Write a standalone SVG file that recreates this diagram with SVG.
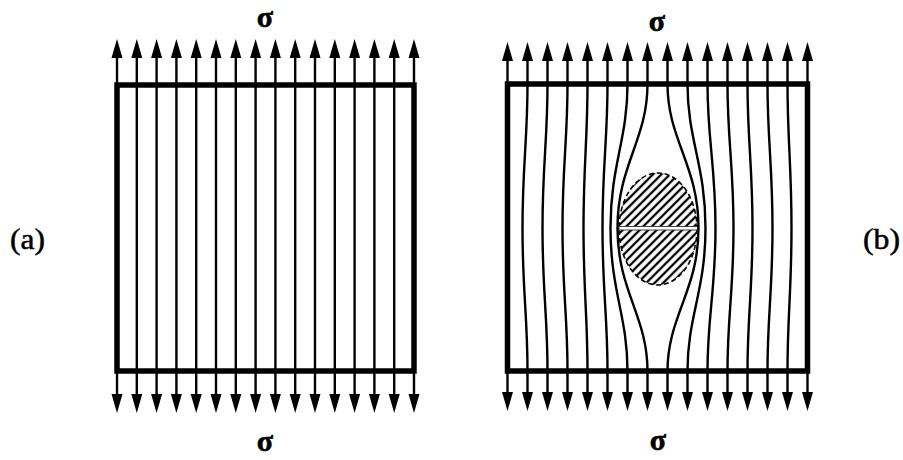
<svg xmlns="http://www.w3.org/2000/svg" width="903" height="460" viewBox="0 0 903 460">
<style>
.box{fill:none;stroke:#000;stroke-width:5.5}
.fl{fill:none;stroke:#000;stroke-width:2.4;marker-start:url(#ah);marker-end:url(#ah)}
.lbl{font-family:Liberation Serif, Times New Roman, serif;font-size:29px;fill:#000;stroke:#000;stroke-width:0.5}
.sig{font-family:Liberation Serif, Times New Roman, serif;font-size:30px;font-weight:bold;fill:#000;stroke:#000;stroke-width:0.6;text-anchor:middle}
</style>
<defs>
<marker id="ah" markerUnits="userSpaceOnUse" markerWidth="22" markerHeight="12" refX="8" refY="5.5" orient="auto-start-reverse" viewBox="0 0 22 11">
<path d="M0,0 L19,5.5 L0,11 Z" fill="#000"/>
</marker>
<pattern id="hatch" width="6" height="6" patternUnits="userSpaceOnUse" patternTransform="rotate(-45)">
<rect width="6" height="6" fill="#fff"/>
<line x1="0" y1="3" x2="6" y2="3" stroke="#000" stroke-width="2.3"/>
</pattern>
</defs>
<rect width="903" height="460" fill="#fff"/>

<g id="panel-a">
<g id="connectors-a">
<path class="fl" d="M117,50 V402"/>
<path class="fl" d="M136.8,50 V402"/>
<path class="fl" d="M156.6,50 V402"/>
<path class="fl" d="M176.4,50 V402"/>
<path class="fl" d="M196.2,50 V402"/>
<path class="fl" d="M216,50 V402"/>
<path class="fl" d="M235.8,50 V402"/>
<path class="fl" d="M255.6,50 V402"/>
<path class="fl" d="M275.4,50 V402"/>
<path class="fl" d="M295.2,50 V402"/>
<path class="fl" d="M315,50 V402"/>
<path class="fl" d="M334.8,50 V402"/>
<path class="fl" d="M354.6,50 V402"/>
<path class="fl" d="M374.4,50 V402"/>
<path class="fl" d="M394.2,50 V402"/>
<path class="fl" d="M414,50 V402"/>
</g>
<rect id="plate-a" class="box" x="117" y="85" width="297" height="286"/>
<text class="sig" x="265" y="27">σ</text>
<text class="sig" x="265" y="451">σ</text>
<text id="label-a" class="lbl" x="10" y="249" textLength="35" lengthAdjust="spacingAndGlyphs">(a)</text>
</g>

<g id="panel-b">
<g id="inclusion">
<ellipse cx="658" cy="229" rx="39" ry="56" fill="url(#hatch)" stroke="#000" stroke-width="1.6" stroke-dasharray="5 3"/>
<rect x="619" y="226.5" width="79" height="3.5" fill="#fff" stroke="#333" stroke-width="0.9"/>
</g>
<g id="connectors-b">
<path class="fl" d="M507.5,53 V400"/>
<path class="fl" d="M527.5,53 V84 C527.5,140 522.5,165 522.5,228 C522.5,291 527.5,316 527.5,371 V400"/>
<path class="fl" d="M547.5,53 V84 C547.5,140 542.5,165 542.5,228 C542.5,291 547.5,316 547.5,371 V400"/>
<path class="fl" d="M567.5,53 V84 C567.5,140 562.5,165 562.5,228 C562.5,291 567.5,316 567.5,371 V400"/>
<path class="fl" d="M587.5,53 V84 C587.5,140 583.5,165 583.5,228 C583.5,291 587.5,316 587.5,371 V400"/>
<path class="fl" d="M607.5,53 V84 C607.5,140 602.5,165 602.5,228 C602.5,291 607.5,316 607.5,371 V400"/>
<path class="fl" d="M627.5,53 V84 C627.5,140 610.5,165 610.5,228 C610.5,291 627.5,316 627.5,371 V400"/>
<path class="fl" d="M647.5,53 V84 C647.5,140 617.5,165 617.5,228 C617.5,291 647.5,316 647.5,371 V400"/>
<path class="fl" d="M667.5,53 V84 C667.5,140 698.5,165 698.5,228 C698.5,291 667.5,316 667.5,371 V400"/>
<path class="fl" d="M687.5,53 V84 C687.5,140 705.5,165 705.5,228 C705.5,291 687.5,316 687.5,371 V400"/>
<path class="fl" d="M707.5,53 V84 C707.5,140 715.5,165 715.5,228 C715.5,291 707.5,316 707.5,371 V400"/>
<path class="fl" d="M727.5,53 V84 C727.5,140 733.5,165 733.5,228 C733.5,291 727.5,316 727.5,371 V400"/>
<path class="fl" d="M747.5,53 V84 C747.5,140 752.5,165 752.5,228 C752.5,291 747.5,316 747.5,371 V400"/>
<path class="fl" d="M767.5,53 V84 C767.5,140 772.5,165 772.5,228 C772.5,291 767.5,316 767.5,371 V400"/>
<path class="fl" d="M787.5,53 V84 C787.5,140 791.5,165 791.5,228 C791.5,291 787.5,316 787.5,371 V400"/>
<path class="fl" d="M807.5,53 V400"/>
</g>
<rect id="plate-b" class="box" x="507.5" y="84" width="300" height="287"/>
<text class="sig" x="657" y="31">σ</text>
<text class="sig" x="658" y="450">σ</text>
<text id="label-b" class="lbl" x="863" y="249" textLength="37" lengthAdjust="spacingAndGlyphs">(b)</text>
</g>
</svg>
